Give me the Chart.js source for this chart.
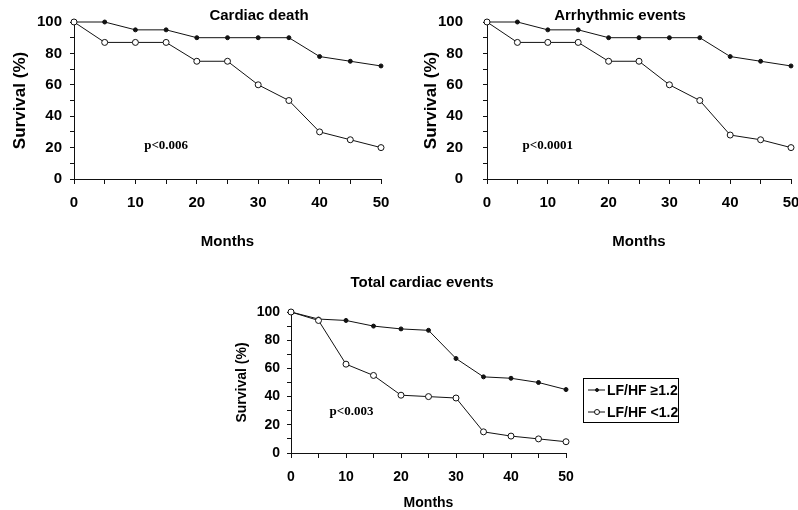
<!DOCTYPE html>
<html>
<head>
<meta charset="utf-8">
<script src="https://cdn.jsdelivr.net/npm/chart.js@4.4.1/dist/chart.umd.min.js"></script>
<style>
  html, body { margin: 0; padding: 0; background: #fff; overflow: hidden; }
  body { width: 798px; height: 510px; position: relative; }
  canvas { position: absolute; }
</style>
</head>
<body>
<canvas id="cardiac" width="400" height="255" style="left:0;top:0"></canvas>
<canvas id="arrhythmic" width="398" height="255" style="left:400px;top:0"></canvas>
<canvas id="total" width="460" height="248" style="left:230px;top:262px"></canvas>
<script>
const months = [0, 5, 10, 15, 20, 25, 30, 35, 40, 45, 50];
const xLabelTicks = [0, 10, 20, 30, 40, 50];
const yLabelTicks = [0, 20, 40, 60, 80, 100];
const seriesLabels = ['LF/HF \u22651.2', 'LF/HF <1.2'];

const cardiacHigh = [100, 100, 95, 95, 90, 90, 90, 90, 78, 75, 72];
const cardiacLow = [100, 87, 87, 87, 75, 75, 60, 50, 30, 25, 20];
const arrhythmicHigh = [100, 100, 95, 95, 90, 90, 90, 90, 78, 75, 72];
const arrhythmicLow = [100, 87, 87, 87, 75, 75, 60, 50, 28, 25, 20];
const totalHigh = [100, 95, 94, 90, 88, 87, 67, 54, 53, 50, 45];
const totalLow = [100, 94, 63, 55, 41, 40, 39, 15, 12, 10, 8];

const FONT = '"Liberation Sans", Arial, sans-serif';
const INK = '#111';

function toPoints(values) {
    return months.map((m, i) => ({ x: m, y: values[i] }));
}

function highSeries(values) {
    return {
        label: seriesLabels[0],
        data: toPoints(values),
        order: 1,
        borderColor: INK,
        borderWidth: 1,
        pointRadius: 2,
        pointBackgroundColor: INK,
        pointBorderColor: INK,
        pointBorderWidth: 1,
        tension: 0,
    };
}

function lowSeries(values) {
    return {
        label: seriesLabels[1],
        data: toPoints(values),
        order: 0,
        borderColor: INK,
        borderWidth: 1,
        pointRadius: 3,
        pointBackgroundColor: '#fff',
        pointBorderColor: INK,
        pointBorderWidth: 1,
        tension: 0,
    };
}

// title and p-value text
const annotate = {
    id: 'annotate',
    afterDraw(chart, args, opts) {
        const { ctx, scales: { x, y } } = chart;
        ctx.save();
        ctx.fillStyle = '#000';
        ctx.textAlign = 'center';
        ctx.textBaseline = 'middle';
        ctx.font = `bold 15px ${FONT}`;
        ctx.fillText(opts.title, opts.titleX, opts.titleY);
        ctx.font = 'bold 13px "Liberation Serif", "Times New Roman", serif';
        ctx.fillText(opts.pText, x.getPixelForValue(opts.pAt[0]), y.getPixelForValue(opts.pAt[1]));
        ctx.restore();
    },
};

// legend with a border, drawn from the datasets' own styles
const boxedLegend = {
    id: 'boxedLegend',
    afterDraw(chart, args, opts) {
        if (!opts.show) {
            return;
        }
        const { ctx } = chart;
        const left = chart.chartArea.right + opts.gap;
        ctx.save();
        ctx.strokeStyle = '#000';
        ctx.lineWidth = 1;
        ctx.strokeRect(left + 0.5, opts.top + 0.5, opts.width, opts.height);
        chart.data.datasets.forEach((ds, i) => {
            const rowY = opts.top + 12 + i * 22;
            ctx.strokeStyle = ds.borderColor;
            ctx.beginPath();
            ctx.moveTo(left + 5, rowY);
            ctx.lineTo(left + 22, rowY);
            ctx.stroke();
            ctx.beginPath();
            ctx.arc(left + 14, rowY, ds.pointRadius - 0.5, 0, Math.PI * 2);
            ctx.fillStyle = ds.pointBackgroundColor;
            ctx.fill();
            ctx.strokeStyle = ds.pointBorderColor;
            ctx.stroke();
            ctx.fillStyle = '#000';
            ctx.font = `bold 14px ${FONT}`;
            ctx.textAlign = 'left';
            ctx.textBaseline = 'middle';
            ctx.fillText(ds.label, left + 24, rowY + 1);
        });
        ctx.restore();
    },
};

function makeChart(id, p) {
    const canvas = document.getElementById(id);
    return new Chart(canvas.getContext('2d'), {
        type: 'line',
        data: { datasets: [highSeries(p.high), lowSeries(p.low)] },
        plugins: [annotate, boxedLegend],
        options: {
            responsive: false,
            animation: false,
            devicePixelRatio: 1,
            clip: false,
            layout: { padding: p.padding },
            plugins: {
                legend: { display: false },
                tooltip: { enabled: false },
                annotate: { title: p.title, titleX: p.titleX, titleY: p.titleY, pText: p.pText, pAt: p.pAt },
                boxedLegend: p.legend || { show: false },
            },
            scales: {
                x: {
                    type: 'linear',
                    min: 0,
                    max: 50,
                    afterFit: (scale) => {
                        scale.height = p.xHeight;
                        scale.paddingLeft = 0;
                        scale.paddingRight = 0;
                    },
                    border: { color: INK, width: 1 },
                    grid: { drawOnChartArea: false, drawTicks: true, tickLength: 5, color: INK },
                    ticks: {
                        stepSize: 5,
                        autoSkip: false,
                        maxRotation: 0,
                        padding: p.xPad,
                        color: '#000',
                        font: { family: FONT, size: p.tickSize, weight: 'bold' },
                        callback: (v) => (xLabelTicks.includes(v) ? v : ''),
                    },
                    title: {
                        display: true,
                        text: 'Months',
                        color: '#000',
                        padding: { top: 0, bottom: p.monthsPad },
                        font: { family: FONT, size: p.tickSize, weight: 'bold', lineHeight: p.monthsLine },
                    },
                },
                y: {
                    min: 0,
                    max: 100,
                    afterFit: (scale) => {
                        scale.width = p.yWidth;
                        scale.paddingTop = 0;
                        scale.paddingBottom = 0;
                    },
                    border: { color: INK, width: 1 },
                    grid: { drawOnChartArea: false, drawTicks: true, tickLength: 4, color: INK },
                    ticks: {
                        stepSize: 10,
                        autoSkip: false,
                        padding: p.yPad,
                        color: '#000',
                        font: { family: FONT, size: p.tickSize, weight: 'bold' },
                        callback: (v) => (yLabelTicks.includes(v) ? v : ''),
                    },
                    title: {
                        display: true,
                        text: 'Survival (%)',
                        color: '#000',
                        padding: { top: p.survPad, bottom: 0 },
                        font: { family: FONT, size: p.survSize, weight: 'bold' },
                    },
                },
            },
        },
    });
}

document.addEventListener('DOMContentLoaded', () => {
    makeChart('cardiac', {
        high: cardiacHigh, low: cardiacLow,
        title: 'Cardiac death', titleX: 259, titleY: 16,
        pText: 'p<0.006', pAt: [15, 21],
        padding: { top: 22, right: 19, left: 0, bottom: 0 },
        xHeight: 76, yWidth: 74, xPad: 10, yPad: 8,
        tickSize: 15, monthsPad: 4, monthsLine: 1.2,
        survSize: 17, survPad: 10,
    });

    makeChart('arrhythmic', {
        high: arrhythmicHigh, low: arrhythmicLow,
        title: 'Arrhythmic events', titleX: 220, titleY: 16,
        pText: 'p<0.0001', pAt: [10, 21],
        padding: { top: 22, right: 7, left: 0, bottom: 0 },
        xHeight: 76, yWidth: 87, xPad: 10, yPad: 20,
        tickSize: 15, monthsPad: 4, monthsLine: 1.2,
        survSize: 17, survPad: 21,
    });

    makeChart('total', {
        high: totalHigh, low: totalLow,
        title: 'Total cardiac events', titleX: 192, titleY: 21,
        pText: 'p<0.003', pAt: [11, 29],
        padding: { top: 50, right: 124, left: 0, bottom: 0 },
        xHeight: 57, yWidth: 61, xPad: 11, yPad: 7,
        tickSize: 14, monthsPad: 0, monthsLine: 1,
        survSize: 14, survPad: 4,
        legend: { show: true, gap: 17, top: 116, width: 95, height: 44 },
    });
});
</script>
</body>
</html>
